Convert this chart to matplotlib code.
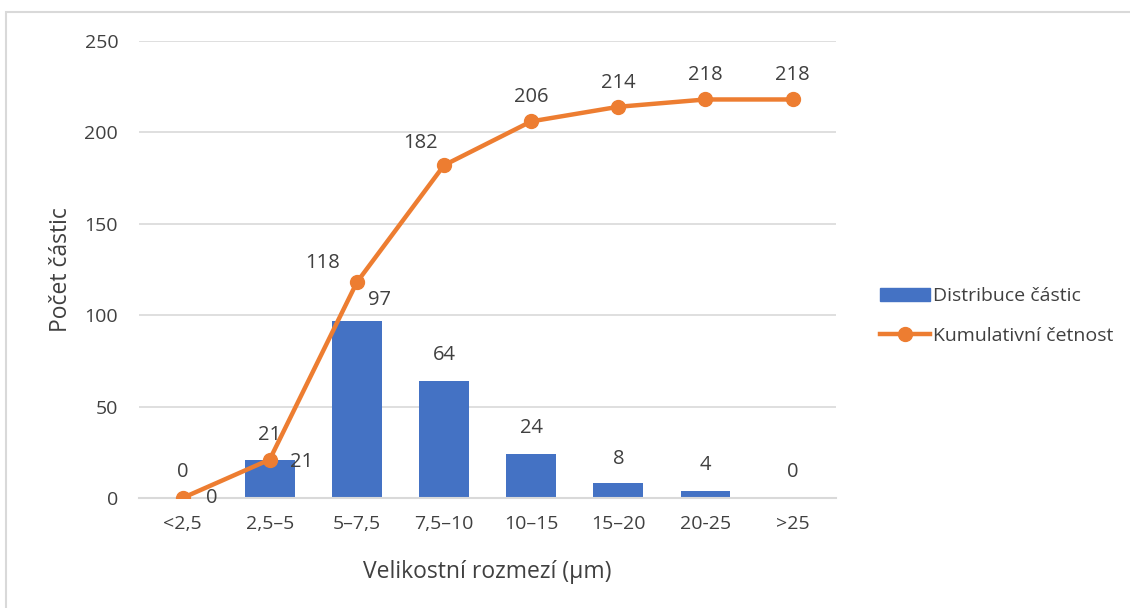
import numpy as np
import matplotlib.pyplot as plt
from matplotlib.patches import Rectangle
from matplotlib.lines import Line2D

plt.rcParams["font.family"] = ["Open Sans", "DejaVu Sans"]

# Data
categories = ["<2,5", "2,5–5", "5–7,5", "7,5–10", "10–15", "15–20", "20-25", ">25"]
distribution = [0, 21, 97, 64, 24, 8, 4, 0]
cumulative = [0, 21, 118, 182, 206, 214, 218, 218]

bar_color = "#4472C4"
line_color = "#ED7D31"
text_color = "#404040"
grid_color = "#D9D9D9"

fig = plt.figure(figsize=(11.3, 6.08), dpi=100)
ax = fig.add_axes([0.123, 0.181, 0.617, 0.7516])

x = np.arange(len(categories))
ax.bar(x, distribution, width=0.573, color=bar_color, zorder=2)
ax.plot(x, cumulative, color=line_color, lw=3.2, marker="o", ms=10,
        zorder=3, solid_capstyle="round")

ax.set_xlim(-0.5, len(categories) - 0.5)
ax.set_ylim(0, 250)
ax.set_yticks(np.arange(0, 251, 50))
ax.set_xticks(x)
ax.set_xticklabels(categories)

ax.grid(axis="y", color=grid_color, lw=1.2, zorder=0)
ax.set_axisbelow(True)
for side in ["top", "right", "left"]:
    ax.spines[side].set_visible(False)
ax.spines["bottom"].set_color(grid_color)
ax.spines["bottom"].set_linewidth(1.5)
ax.tick_params(axis="both", length=0, labelsize=14, colors=text_color)
ax.tick_params(axis="y", pad=15)
ax.tick_params(axis="x", pad=12)

ax.set_ylabel("Počet částic", fontsize=16.5, color=text_color, labelpad=8)
ax.set_xlabel("Velikostní rozmezí (µm)", fontsize=16.5, color=text_color, labelpad=20)

# Bar value labels (pixel offsets from bar top)
bar_offsets = [(0, 26), (0, 25), (23, 21), (0, 26), (0, 26), (0, 24), (0, 26), (0, 26)]
for xi, v, off in zip(x, distribution, bar_offsets):
    ax.annotate(str(v), (xi, v), xytext=off, textcoords="offset pixels",
                ha="center", va="center", fontsize=14.5, color=text_color)

# Cumulative value labels
line_offsets = [(29, 0), (32, -2), (-34, 19), (-24, 22), (0, 24), (0, 24), (0, 24), (0, 24)]
for xi, v, off in zip(x, cumulative, line_offsets):
    ax.annotate(str(v), (xi, v), xytext=off, textcoords="offset pixels",
                ha="center", va="center", fontsize=14.5, color=text_color)

handles = [
    Rectangle((0, 0), 1, 1, color=bar_color),
    Line2D([0], [0], color=line_color, lw=3.2, marker="o", ms=10),
]
fig.legend(handles, ["Distribuce částic", "Kumulativní četnost"],
           loc="center left", bbox_to_anchor=(0.763, 0.48), frameon=False,
           fontsize=14, labelcolor=text_color, handlelength=2.6,
           handletextpad=0.15, labelspacing=1.1)

# Chart area border
fig.patches.append(Rectangle((6 / 1130, -0.05), 1.2, 1 - 12 / 608 + 0.05,
                             transform=fig.transFigure, fill=False,
                             edgecolor=grid_color, lw=1.5))

fig.savefig("out.png", dpi=100)
